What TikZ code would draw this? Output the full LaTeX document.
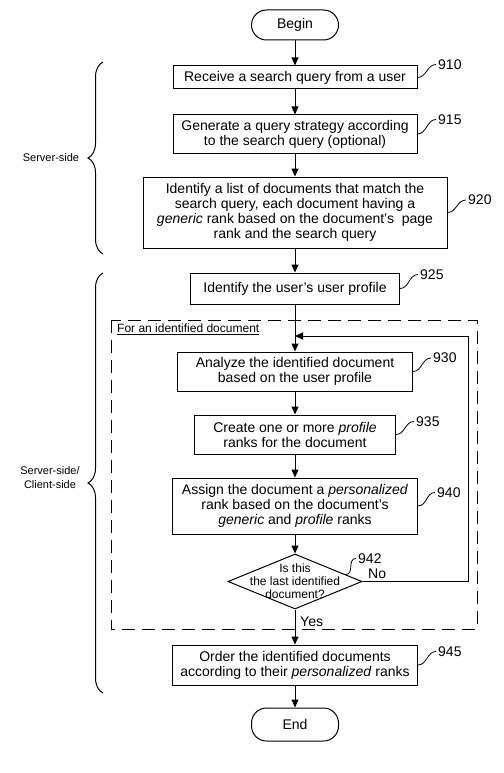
\documentclass[tikz,border=0pt]{standalone}
\usepackage{fontspec}
\setmainfont{Liberation Sans}
\usetikzlibrary{calc}
\usetikzlibrary{arrows.meta}
\usetikzlibrary{shapes.geometric}
\usetikzlibrary{decorations.pathreplacing}
\tikzset{
    stepbox/.style={draw,line width=1pt,align=center,inner sep=0pt,font=\fontsize{14}{15}\selectfont},
    termbox/.style={stepbox,rounded corners=15pt},
    tagtext/.style={inner sep=2pt,anchor=west,font=\fontsize{14}{15}\selectfont},
    flow/.style={line width=1pt,-{Triangle[length=8pt,width=7pt]}},
    sidebrace/.style={line width=1pt,decorate,decoration={brace,amplitude=15pt}},
    sidetext/.style={align=center,font=\fontsize{11}{14}\selectfont},
}
\newcommand{\Step}[6]{% name,x,y,width,height,text
    \node[stepbox,minimum width=#4pt,minimum height=#5pt] (#1) at (#2,#3) {#6}
}
\newcommand{\Tag}[4]{% from,x,y,number
    \node[tagtext] (t#4) at (#2,#3) {#4};
    \draw[line width=0.8pt] (#1) .. controls +(9,0) and +(-9,0) .. (t#4.west)
}

\begin{document}
\begin{tikzpicture}[x=1pt,y=-1pt]
        \useasboundingbox (0,0) rectangle (503,773);

        \node[termbox,minimum width=87pt,minimum height=30pt] (begin) at (295,25) {Begin};
        \Step{s910}{295}{77.5}{244}{23}{Receive a search query from a user};
        \Step{s915}{295}{134}{244}{38}{Generate a query strategy according\\to the search query (optional)};
        \Step{s920}{295}{212.5}{304}{71}{Identify a list of documents that match the\\search query, each document having a\\\textit{generic} rank based on the document's\ \ page\\rank and the search query};
        \Step{s925}{295}{288.5}{209}{31}{Identify the user's user profile};
        \Step{s930}{295}{371.5}{235}{39}{Analyze the identified document\\based on the user profile};
        \Step{s935}{295}{434.5}{201}{39}{Create one or more \textit{profile}\\ranks for the document};
        \Step{s940}{295}{506}{245}{56}{Assign the document a \textit{personalized}\\rank based on the document's\\\textit{generic} and \textit{profile} ranks};
        \node[diamond,draw,line width=1pt,aspect=2.44,inner sep=0pt,minimum width=134pt,minimum height=55pt] (dec) at (295,581.5) {};
        \node[align=center,font=\fontsize{12}{13}\selectfont] (dectxt) at (dec) {Is this\\the last identified\\document?};
        \Step{s945}{295}{665}{245}{40}{Order the identified documents\\according to their \textit{personalized} ranks};
        \node[termbox,minimum width=87pt,minimum height=33pt] (end) at (295,724.5) {End};

        % step numbers
        \Tag{s910.east}{436}{64.5}{910};
        \Tag{s915.east}{436}{119.5}{915};
        \Tag{s920.east}{466}{200}{920};
        \Tag{s925.east}{418}{274.5}{925};
        \Tag{s930.east}{431}{358}{930};
        \Tag{s935.east}{414}{421.5}{935};
        \Tag{s940.east}{435}{492.5}{940};
        \Tag{$(dec.north east)!0.5!(dec.east)$}{356}{558.5}{942};
        \Tag{s945.east}{436}{651.5}{945};

        % flow
        \draw[flow] (begin) -- (s910);
        \draw[flow] (s910) -- (s915);
        \draw[flow] (s915) -- (s920);
        \draw[flow] (s920) -- (s925);
        \draw[flow] (s925) -- (s930);
        \draw[flow] (s930) -- (s935);
        \draw[flow] (s935) -- (s940);
        \draw[flow] (s940) -- (dec);
        \draw[flow] (dec) -- (s945);
        \draw[flow] (s945) -- (end);

        \coordinate (back) at (468,581.5);
        \coordinate (join) at (295,336);
        \draw[flow] (dec.east) -- (back) |- (join);
        \node[tagtext] (no) at (366,573.5) {No};
        \node[tagtext] (yes) at (298,621.5) {Yes};

        % loop frame
        \draw[line width=1pt,dash pattern=on 13pt off 7pt] (111,320) rectangle (477,629);
        \node[anchor=west,inner sep=0pt,font=\fontsize{12}{13}\selectfont] (loopname) at (117,329) {\underline{For an identified document}};

        % sides
        \draw[sidebrace] (103,254) -- (103,62);
        \draw[sidebrace] (103,693) -- (103,273);
        \node[sidetext] (server) at (51,158) {Server-side};
        \node[sidetext] (both) at (50,478) {Server-side/\\Client-side};
\end{tikzpicture}
\end{document}
